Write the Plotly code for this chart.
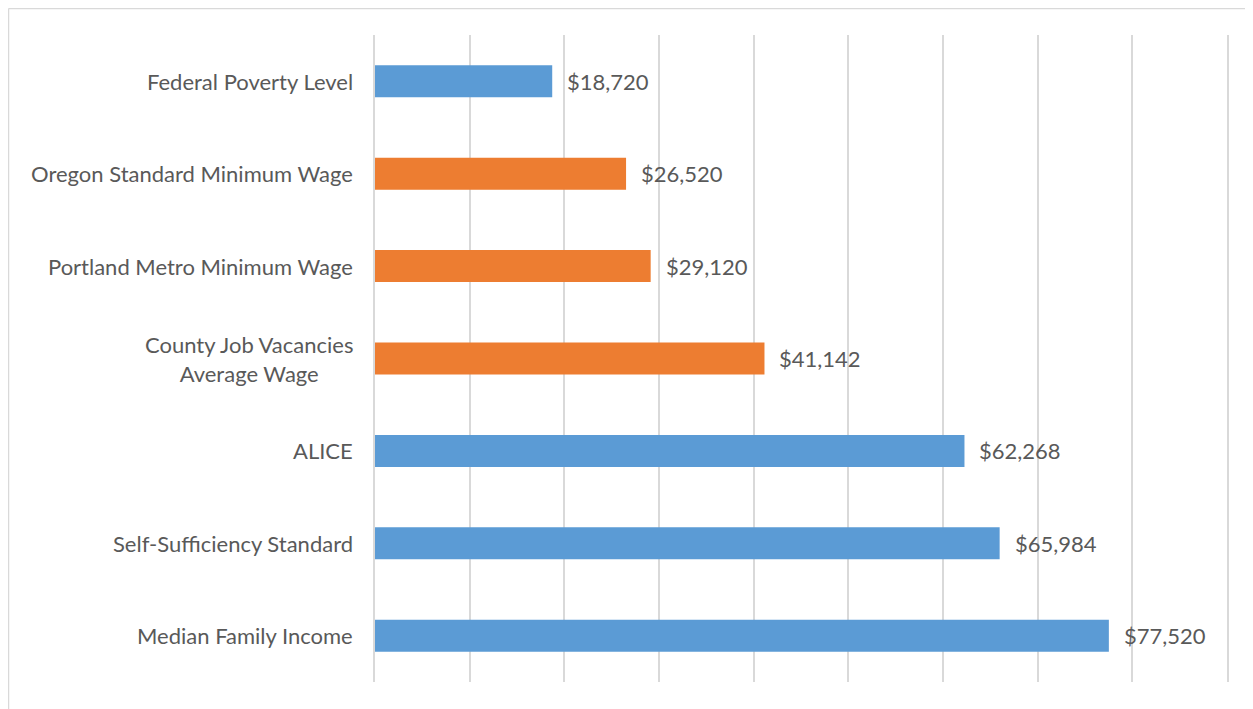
import plotly.graph_objects as go

categories = [
    "Federal Poverty Level",
    "Oregon Standard Minimum Wage",
    "Portland Metro Minimum Wage",
    "County Job Vacancies<br>Average Wage",
    "ALICE",
    "Self-Sufficiency Standard",
    "Median Family Income",
]
values = [18720, 26520, 29120, 41142, 62268, 65984, 77520]
bar_colors = ["#5B9BD5", "#ED7D31", "#ED7D31", "#ED7D31", "#5B9BD5", "#5B9BD5", "#5B9BD5"]

FONT = "Lato"
TXT = "#595959"
FS = 22

fig = go.Figure()
fig.add_trace(go.Bar(
    y=categories, x=values, orientation="h",
    marker=dict(color=bar_colors, line=dict(width=0)),
    hoverinfo="skip",
))

annotations = []
for c, v in zip(categories, values):
    annotations.append(dict(
        x=v, y=c, xref="x", yref="y", text=f"${v:,}", showarrow=False,
        xanchor="left", xshift=13, font=dict(family=FONT, size=FS, color=TXT),
    ))
    annotations.append(dict(
        x=0, y=c, xref="paper", yref="y", text=c, showarrow=False,
        xanchor="right", xshift=-20, align="center",
        font=dict(family=FONT, size=FS, color=TXT),
    ))

W, H = 1245, 701
L, T = 367, 27
fig.update_layout(
    width=W, height=H,
    margin=dict(l=L, r=26, t=T, b=27),
    paper_bgcolor="white", plot_bgcolor="white",
    bargap=0.654,
    showlegend=False,
    annotations=annotations,
    xaxis=dict(range=[0, 90000], dtick=10000, showgrid=True, gridcolor="#D9D9D9",
               gridwidth=1.5, showticklabels=False, zeroline=False, showline=False, fixedrange=True),
    yaxis=dict(categoryorder="array", categoryarray=categories[::-1], showticklabels=False,
               showgrid=False, zeroline=False, showline=True, mirror=True,
               linecolor="#D9D9D9", linewidth=1.5, fixedrange=True),
    shapes=[
        dict(type="line", xref="paper", yref="paper",
             x0=-(L - 0.5) / 852, x1=1.2, y0=1 + (T - 0.5) / 647, y1=1 + (T - 0.5) / 647,
             line=dict(color="#D9D9D9", width=1.5)),
        dict(type="line", xref="paper", yref="paper",
             x0=-(L - 0.5) / 852, x1=-(L - 0.5) / 852, y0=-0.2, y1=1 + (T - 0.5) / 647,
             line=dict(color="#D9D9D9", width=1.5)),
    ],
)

fig.write_html("out.html")
